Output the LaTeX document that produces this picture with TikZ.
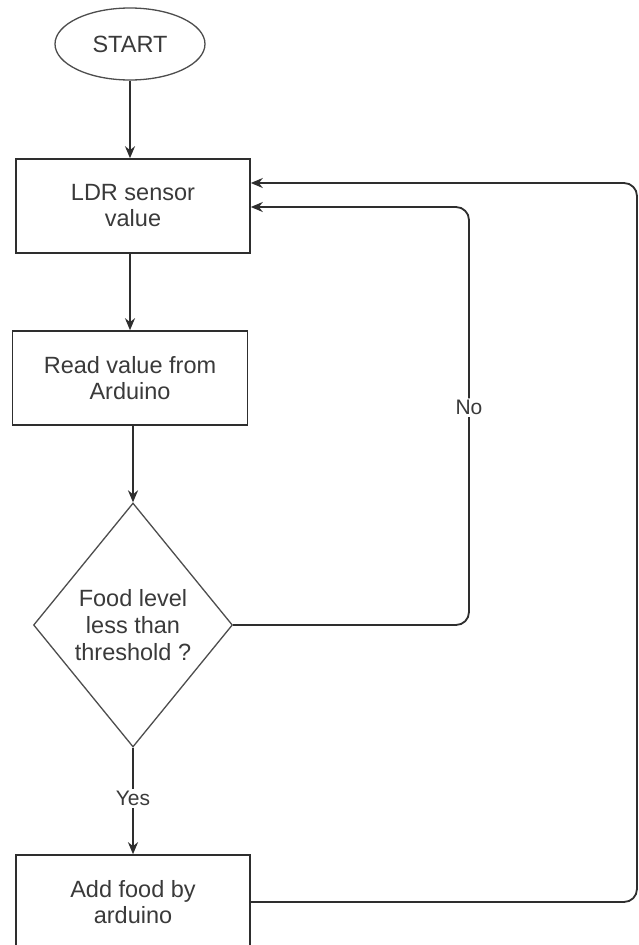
\documentclass[tikz,border=0pt]{standalone}
\usepackage{fontspec}
\setmainfont{Liberation Sans}
\usetikzlibrary{shapes.geometric,arrows.meta}
\definecolor{ink}{HTML}{2E2E2E}
\definecolor{txt}{HTML}{3A3A3A}
\tikzset{
  boxnode/.style={draw=ink, line width=1.6pt, rectangle, minimum width=234pt, minimum height=94pt, inner sep=0pt, align=center, text=txt, font=\fontsize{23.5}{26}\selectfont},
  termnode/.style={draw=ink!85, line width=1.3pt, ellipse, minimum width=150pt, minimum height=72pt, inner sep=0pt, text=txt, font=\fontsize{23.5}{26}\selectfont},
  decnode/.style={draw=ink!85, line width=1.3pt, diamond, minimum width=199pt, minimum height=244pt, inner sep=0pt},
  dectext/.style={align=center, text=txt, font=\fontsize{23.5}{27}\selectfont, inner sep=0pt},
  flow/.style={draw=ink, line width=1.8pt, -{Stealth[length=12pt,width=10pt]}},
  lbl/.style={fill=white, text=txt, font=\fontsize{21}{24}\selectfont, inner sep=2pt}
}
\begin{document}
\begin{tikzpicture}[x=1pt,y=-1pt]
\useasboundingbox[fill=white] (0,0) rectangle (639,945);
\node[termnode] (start) at (130,44) {START};
\node[boxnode] (ldr) at (133,206) {LDR sensor\\value};
\node[boxnode, minimum width=235pt] (read) at (130,378) {Read value from\\Arduino};
\node[decnode] (dec) at (133,625) {};
\node[dectext] (dect) at (133,625) {Food level\\less than\\threshold ?};
\node[boxnode] (add) at (133,902) {Add food by\\arduino};
\coordinate (nocorner) at (469,0);
\coordinate (loopx) at (637,0);

\draw[flow] (start.south) -- (start.south |- ldr.north);
\draw[flow] (ldr.south -| read.north) -- (read.north);
\draw[flow] (read.south -| dec.north) -- (dec.north);
\draw[flow] (dec.south) -- node[lbl, pos=0.48] (yes) {Yes} (dec.south |- add.north);
\draw[flow, rounded corners=13pt] (dec.east) -- (dec.east -| nocorner) -- node[lbl, pos=0.52] (no) {No} ([yshift=-1pt]ldr.east -| nocorner) -- ([yshift=-1pt]ldr.east);
\draw[flow, rounded corners=13pt] (add.east) -- (add.east -| loopx) -- ([yshift=23pt]ldr.east -| loopx) -- ([yshift=23pt]ldr.east);
\end{tikzpicture}
\end{document}
